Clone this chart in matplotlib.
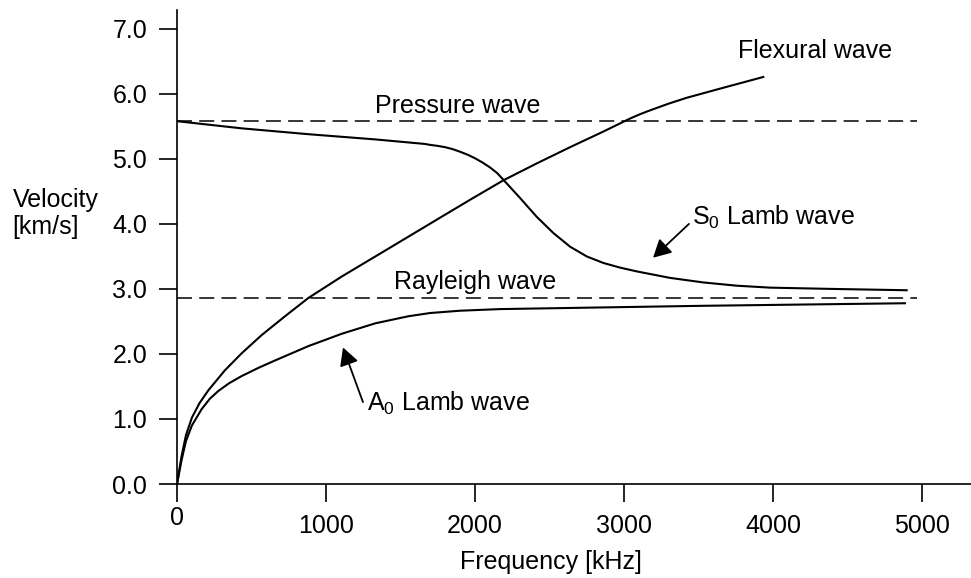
import matplotlib
matplotlib.use('Agg')
import matplotlib.pyplot as plt
from matplotlib.transforms import ScaledTranslation

plt.rcParams['font.family'] = ['Liberation Sans', 'DejaVu Sans']
plt.rcParams['mathtext.fontset'] = 'custom'
plt.rcParams['mathtext.rm'] = 'Liberation Sans'
plt.rcParams['lines.scale_dashes'] = False

# dispersion curves (frequency kHz, velocity km/s)
flex_f = [0, 30, 60, 100, 150, 210, 322, 434, 568, 725, 881, 1105, 1441, 1776, 1966, 2190,
          2414, 2638, 2861, 2995, 3050, 3100, 3150, 3197, 3300, 3421, 3644, 3935]
flex_v = [0, 0.42, 0.75, 1.02, 1.24, 1.44, 1.75, 2.01, 2.29, 2.58, 2.86, 3.19, 3.65, 4.11,
          4.37, 4.67, 4.93, 5.18, 5.42, 5.57, 5.63, 5.68, 5.725, 5.765, 5.85, 5.94, 6.08, 6.26]

s0_f = [0, 434, 881, 1329, 1664, 1700, 1750, 1800, 1850, 1900, 1950, 2000, 2050, 2100, 2150,
        2190, 2302, 2414, 2526, 2638, 2750, 2861, 2970, 3085, 3309, 3532, 3756, 3980, 4404, 4897]
s0_v = [5.58, 5.47, 5.38, 5.30, 5.23, 5.215, 5.20, 5.18, 5.15, 5.11, 5.065, 5.01, 4.945, 4.87,
        4.78, 4.68, 4.40, 4.11, 3.86, 3.65, 3.50, 3.40, 3.33, 3.27, 3.17, 3.10, 3.05, 3.02,
        3.00, 2.98]

a0_f = [0, 30, 60, 100, 165, 220, 277, 350, 434, 550, 658, 881, 1105, 1329, 1553, 1700, 1900,
        2168, 3510, 4886]
a0_v = [0, 0.36, 0.66, 0.90, 1.15, 1.31, 1.43, 1.55, 1.66, 1.79, 1.90, 2.12, 2.31, 2.47, 2.58,
        2.63, 2.665, 2.69, 2.74, 2.78]

pressure_v = 5.58
rayleigh_v = 2.86
bulk_end = 4966

x_ticks = [0, 1000, 2000, 3000, 4000, 5000]
y_ticks = [0, 1, 2, 3, 4, 5, 6, 7]

fs = 18

fig = plt.figure(figsize=(9.71, 5.78), dpi=100)
ax = fig.add_axes([177 / 971, 94 / 578, 794 / 971, 474 / 578])

for f, v in [(flex_f, flex_v), (s0_f, s0_v), (a0_f, a0_v)]:
    ax.plot(f, v, color='black', lw=1.5, solid_joinstyle='round')
ax.plot([0, bulk_end], [pressure_v, pressure_v], color='black', lw=1.1, dashes=(10.8, 5.2))
ax.plot([0, bulk_end], [rayleigh_v, rayleigh_v], color='black', lw=1.1, dashes=(10.8, 5.2))

ax.text(1886, 5.71, 'Pressure wave', ha='center', va='baseline', fontsize=fs)
ax.text(2000, 3.0, 'Rayleigh wave', ha='center', va='baseline', fontsize=fs)
ax.text(4282, 6.55, 'Flexural wave', ha='center', va='baseline', fontsize=fs)
ax.text(3456, 3.98, r'S$_\mathrm{0}$ Lamb wave', ha='left', va='baseline', fontsize=fs)
ax.text(1275, 1.12, r'A$_\mathrm{0}$ Lamb wave', ha='left', va='baseline', fontsize=fs)

arrow = dict(arrowstyle='-|>,head_length=0.54,head_width=0.29', color='black',
             lw=1.3, shrinkA=0, shrinkB=0, mutation_scale=20)
ax.annotate('', xy=(3195, 3.48), xytext=(3436, 4.0), arrowprops=arrow)
ax.annotate('', xy=(1114, 2.1), xytext=(1248, 1.26), arrowprops=arrow)

ax.set_xlim(0, 5329)
ax.set_ylim(0, 7.29)
ax.set_xticks(x_ticks)
ax.set_xticklabels([str(t) for t in x_ticks])
ax.set_yticks(y_ticks)
ax.set_yticklabels(['%.1f' % t for t in y_ticks])
ax.tick_params(direction='out', length=13, width=1.2, pad=8.5, labelsize=fs)

for side in ['top', 'right']:
    ax.spines[side].set_visible(False)
for side in ['left', 'bottom']:
    ax.spines[side].set_linewidth(1.2)

ax.text(-0.207, 0.57, 'Velocity\n[km/s]', transform=ax.transAxes, ha='left', va='center',
        fontsize=fs, linespacing=1.15)
ax.text(0.471, -0.165, 'Frequency [kHz]', transform=ax.transAxes, ha='center', va='center',
        fontsize=fs)

# the "0" label sits a bit higher than the others
lbl = ax.get_xticklabels()[0]
lbl.set_transform(lbl.get_transform() + ScaledTranslation(0, 8 / 100, fig.dpi_scale_trans))

fig.savefig('out.png', dpi=100)
